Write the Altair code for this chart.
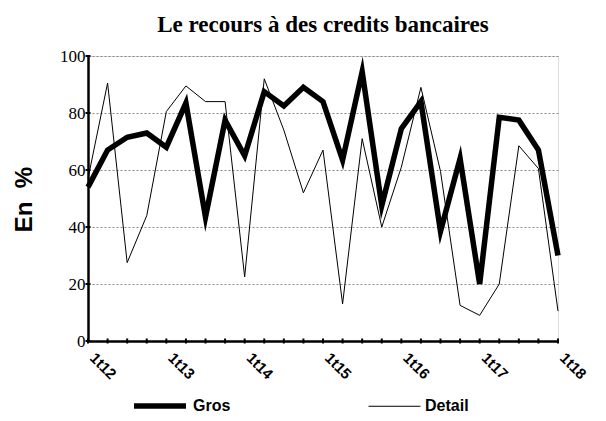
import altair as alt
import pandas as pd

quarters = []
for yr in range(12, 18):
    for q in range(1, 5):
        quarters.append(f"{q}t{yr}")
quarters.append("1t18")

gros = [54, 67, 71.5, 73, 68, 83.5, 43.5, 77.5, 65, 87.5, 82.5, 89, 84, 63.5,
        94.5, 47.5, 74.5, 84, 38.5, 64, 20, 78.5, 77.5, 67, 30]
detail = [57, 90.5, 27.5, 44, 80.5, 89.5, 84, 84, 22.5, 92, 74, 52, 67, 13,
          71, 40, 61, 89, 59.5, 12.5, 9, 20, 68.5, 60.5, 10.5]

series_names = ["Gros", "Detail"]
y_ticks = [0, 20, 40, 60, 80, 100]

rows = []
for i, q in enumerate(quarters):
    rows.append({"q": q, "serie": "Detail", "v": detail[i], "o": i})
    rows.append({"q": q, "serie": "Gros", "v": gros[i], "o": i})
df = pd.DataFrame(rows)
df_xt = pd.DataFrame({"q": quarters})
df_yt = pd.DataFrame({"q": [quarters[0]] * len(y_ticks), "v": y_ticks})

x_scale = alt.Scale(type="point", padding=0)
y_scale = alt.Scale(domain=[0, 100], nice=False)

x_axis = alt.Axis(
    title=None,
    labelExpr="indexof(datum.value, '1t') == 0 ? datum.value : ''",
    labelAngle=45,
    labelAlign="left",
    labelBaseline="top",
    labelPadding=9,
    labelOffset=9,
    labelFont="Liberation Sans",
    labelFontWeight="bold",
    labelFontSize=15,
    labelColor="black",
    ticks=False,
    tickSize=5,
    domainColor="black",
    domainWidth=2.5,
    grid=False,
)

y_axis = alt.Axis(
    title="En\u00a0\u00a0%",
    values=y_ticks,
    titleFont="Liberation Sans",
    titleFontSize=24,
    titleFontWeight="bold",
    titleColor="black",
    titleX=-64,
    titleY=143,
    titleAlign="center",
    titleBaseline="middle",
    labelFont="Liberation Serif",
    labelFontSize=17,
    labelColor="black",
    labelPadding=3,
    ticks=False,
    tickSize=5,
    domainColor="black",
    domainWidth=2.5,
    grid=True,
    gridColor="#888888",
    gridDash=[2, 2],
    gridWidth=1,
)

x_enc = alt.X("q:O", sort=quarters, scale=x_scale, axis=x_axis)
y_enc = alt.Y("v:Q", scale=y_scale, axis=y_axis)

lines = alt.Chart(df).mark_line(color="black", strokeJoin="miter", strokeMiterLimit=6).encode(
    x=x_enc,
    y=y_enc,
    detail="serie:N",
    order="o:Q",
    strokeWidth=alt.StrokeWidth(
        "serie:O",
        sort=series_names,
        scale=alt.Scale(domain=series_names, range=[5.5, 1]),
        legend=alt.Legend(
            title=None,
            orient="none",
            legendX=43,
            legendY=321,
            direction="horizontal",
            columnPadding=135,
            symbolType="stroke",
            symbolSize=2700,
            symbolStrokeColor="black",
            labelFont="Liberation Sans",
            labelFontWeight="bold",
            labelFontSize=16,
            labelColor="black",
            labelOffset=4,
        ),
    ),
)

xticks = alt.Chart(df_xt).mark_point(
    shape="M0,-0.5L0,0.5", size=100, filled=False, color="black",
    strokeWidth=2, opacity=1
).encode(
    x=x_enc,
    y=alt.YDatum(0, type="quantitative", scale=y_scale, axis=y_axis),
)

yticks = alt.Chart(df_yt).mark_point(
    shape="M-0.5,0L0.5,0", size=100, filled=False, color="black",
    strokeWidth=2, opacity=1
).encode(x=x_enc, y=y_enc)

chart = alt.layer(lines, xticks, yticks).properties(
    width=470,
    height=285,
    title=alt.TitleParams(
        "Le recours à des credits bancaires",
        font="Liberation Serif",
        fontSize=23,
        fontWeight="bold",
        color="black",
        anchor="middle",
        offset=10,
    ),
    autosize=alt.AutoSizeParams(type="none"),
    padding={"left": 80, "top": 48, "right": 40, "bottom": 72},
).configure_view(stroke=None).configure(background="white")

chart.save("out.html", embed_options={"renderer": "svg", "actions": False})
